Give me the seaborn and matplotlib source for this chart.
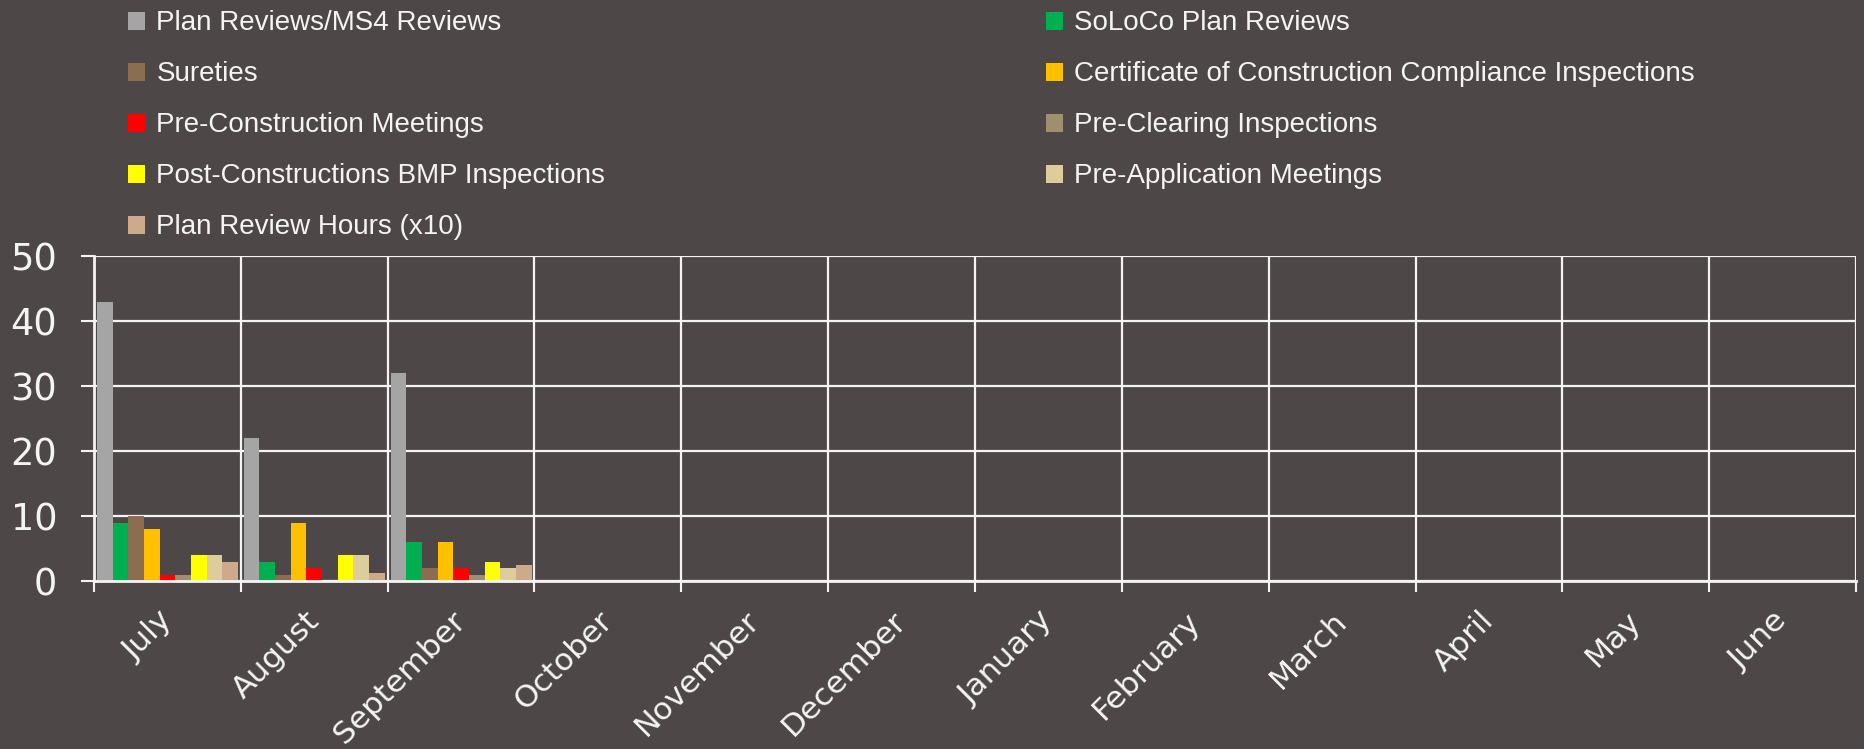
import matplotlib
matplotlib.use("Agg")
import matplotlib.pyplot as plt
import matplotlib.patches as mpatches
import matplotlib.transforms as mtransforms
import numpy as np
import pandas as pd
import seaborn as sns

months = ["July", "August", "September", "October", "November", "December",
          "January", "February", "March", "April", "May", "June"]
data_months = ["July", "August", "September"]

series = ["Plan Reviews/MS4 Reviews", "SoLoCo Plan Reviews", "Sureties",
          "Certificate of Construction Compliance Inspections",
          "Pre-Construction Meetings", "Pre-Clearing Inspections",
          "Post-Constructions BMP Inspections", "Pre-Application Meetings",
          "Plan Review Hours (x10)"]

plan_reviews = [43, 22, 32]
soloco = [9, 3, 6]
sureties = [10, 1, 2]
ccc_inspections = [8, 9, 6]
pre_construction = [1, 2, 2]
pre_clearing = [1, 0, 1]
post_bmp = [4, 4, 3]
pre_application = [4, 4, 2]
review_hours_x10 = [3, 1.3, 2.4]

colors = ["#a5a5a5", "#00b050", "#8b6d50", "#ffc000", "#ff0000",
          "#9f8f6f", "#ffff00", "#ddcd9d", "#ccaa8a"]

values = [plan_reviews, soloco, sureties, ccc_inspections, pre_construction,
          pre_clearing, post_bmp, pre_application, review_hours_x10]

rows = []
for s, vals in zip(series, values):
    for m, v in zip(data_months, vals):
        rows.append({"Month": m, "Series": s, "Value": v})
df = pd.DataFrame(rows)

bg = "#4d4847"
fg = "#f4f4f4"

sns.set_theme(style="white")
plt.rcParams["font.family"] = ["DejaVu Sans"]

fig = plt.figure(figsize=(18.64, 7.49), dpi=100, facecolor=bg)
ax = fig.add_axes([94/1864, 1-581/749, (1856-94)/1864, (581-256)/749])
ax.set_facecolor(bg)

sns.barplot(data=df, x="Month", y="Value", hue="Series", order=months,
            hue_order=series, palette=colors, width=0.96, errorbar=None,
            saturation=1, linewidth=0, legend=False, ax=ax)

ax.set_xlim(-0.5, len(months) - 0.5)
ax.set_ylim(0, 50)
ax.set_yticks(np.arange(0, 51, 10))
ax.set_xlabel("")
ax.set_ylabel("")

# grid
ax.yaxis.grid(True, color=fg, linewidth=1.6)
ax.set_xticks(np.arange(-0.5, len(months), 1), minor=True)
ax.xaxis.grid(True, which="minor", color=fg, linewidth=1.6)
ax.xaxis.grid(False, which="major")
ax.set_axisbelow(True)

for side in ["top", "right"]:
    ax.spines[side].set_visible(False)
for side in ["left", "bottom"]:
    ax.spines[side].set_color(fg)
    ax.spines[side].set_linewidth(2)

ax.tick_params(axis="y", which="major", colors=fg, labelsize=26.5, length=9.5,
               width=1.5, pad=17, left=True)
ax.tick_params(axis="x", which="major", length=0, labelsize=22.5, colors=fg, pad=18)
ax.tick_params(axis="x", which="minor", length=8, width=1.5, colors=fg, bottom=True)

ax.set_xticks(range(len(months)))
ax.set_xticklabels(months, rotation=45, ha="right", rotation_mode="anchor")
offset = mtransforms.ScaledTranslation(-10/100, 0, fig.dpi_scale_trans)
for lbl in ax.get_xticklabels():
    lbl.set_transform(lbl.get_transform() + offset)

# legends (row-major ordering across two columns)
handles = [mpatches.Patch(facecolor=c, edgecolor="none", label=s)
           for s, c in zip(series, colors)]
left_h = handles[0::2]
right_h = handles[1::2]
common = dict(frameon=False, labelcolor=fg, handlelength=0.62,
              handleheight=0.62, handletextpad=0.4, labelspacing=0.9,
              borderaxespad=0, borderpad=0, loc="upper left",
              prop={"family": "Liberation Sans", "size": 20})
fig.legend(handles=left_h, bbox_to_anchor=(128/1864, 0.986), **common)
fig.legend(handles=right_h, bbox_to_anchor=(1046/1864, 0.986), **common)

fig.savefig("out.png", dpi=100, facecolor=bg)
